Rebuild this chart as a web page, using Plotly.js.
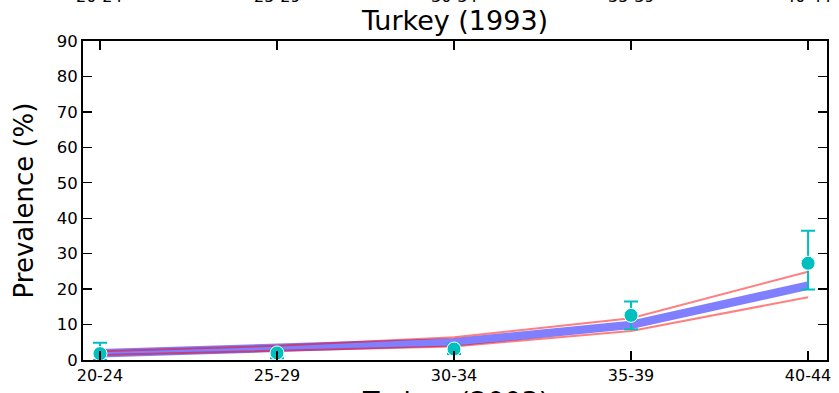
<!DOCTYPE html>
<html>
<head>
<meta charset="utf-8">
<script src="https://cdn.plot.ly/plotly-3.0.1.min.js"></script>
<style>html,body{margin:0;padding:0;background:#fff;}#chart{width:839px;height:393px;}</style>
</head>
<body>
<div id="chart"></div>
<script>
var ageGroups = ["20-24", "25-29", "30-34", "35-39", "40-44"];
var observed = [1.8, 2.0, 3.1, 12.6, 27.3];
var ciHigh = [4.9, 3.2, 4.5, 16.5, 36.5];
var ciLow = [0.0, 0.5, 1.7, 8.7, 19.9];
var modelMean = [1.9, 3.3, 5.0, 9.9, 21.0];
var modelUpper = [2.5, 4.0, 6.4, 11.8, 24.9];
var modelLower = [1.4, 2.6, 3.8, 8.2, 17.7];
var titleText = "Turkey (1993)";
var nextTitleText = "Turkey (2003)";
var yTitleText = "Prevalence (%)";

var font = "DejaVu Sans, sans-serif";

var traces = [
  {x: ageGroups, y: modelMean, mode: "lines", line: {color: "rgba(0,0,255,0.5)", width: 8.5}, hoverinfo: "skip"},
  {x: ageGroups, y: modelUpper, mode: "lines", line: {color: "rgba(255,0,0,0.5)", width: 2}, hoverinfo: "skip"},
  {x: ageGroups, y: modelLower, mode: "lines", line: {color: "rgba(255,0,0,0.5)", width: 2}, hoverinfo: "skip"},
  {x: ageGroups, y: observed, mode: "markers",
   marker: {color: "#00BFBF", size: 14, line: {color: "#ffffff", width: 1}},
   error_y: {type: "data", symmetric: false,
     array: ciHigh.map(function(v, i){ return v - observed[i]; }),
     arrayminus: observed.map(function(v, i){ return v - ciLow[i]; }),
     color: "#00BFBF", thickness: 2, width: 7}}
];

var ann = ageGroups.map(function(c){
  return {x: c, xref: "x", y: 1.141, yref: "paper", text: c, showarrow: false,
          font: {family: font, size: 16, color: "#000"}, yanchor: "middle"};
});
ann.push({x: 0.5, xref: "paper", y: -0.074, yref: "paper", yanchor: "top", text: nextTitleText,
          showarrow: false, font: {family: font, size: 27, color: "#000"}});

var layout = {
  width: 839, height: 393,
  margin: {l: 83, r: 12, t: 41, b: 33},
  paper_bgcolor: "#fff", plot_bgcolor: "#fff",
  showlegend: false,
  font: {family: font, color: "#000"},
  title: {text: titleText, font: {family: font, size: 27, color: "#000"},
          x: 0.5, xref: "paper", xanchor: "center", y: 1, yref: "paper", yanchor: "bottom", pad: {b: 11}},
  xaxis: {type: "category", range: [-0.096, 4.107], showgrid: false, zeroline: false,
          showline: true, linecolor: "#000", linewidth: 2, mirror: "ticks",
          ticks: "inside", ticklen: 9, tickwidth: 1.3, tickcolor: "#000",
          tickfont: {family: font, size: 16, color: "#000"}},
  yaxis: {range: [0, 90], dtick: 10, showgrid: false, zeroline: false,
          showline: true, linecolor: "#000", linewidth: 2, mirror: "ticks",
          ticks: "inside", ticklen: 9, tickwidth: 1.3, tickcolor: "#000",
          tickfont: {family: font, size: 16.5, color: "#000"},
          title: {text: yTitleText, font: {family: font, size: 26, color: "#000"}, standoff: 16}},
  annotations: ann
};

Plotly.newPlot("chart", traces, layout, {staticPlot: true, displayModeBar: false});
</script>
</body>
</html>
